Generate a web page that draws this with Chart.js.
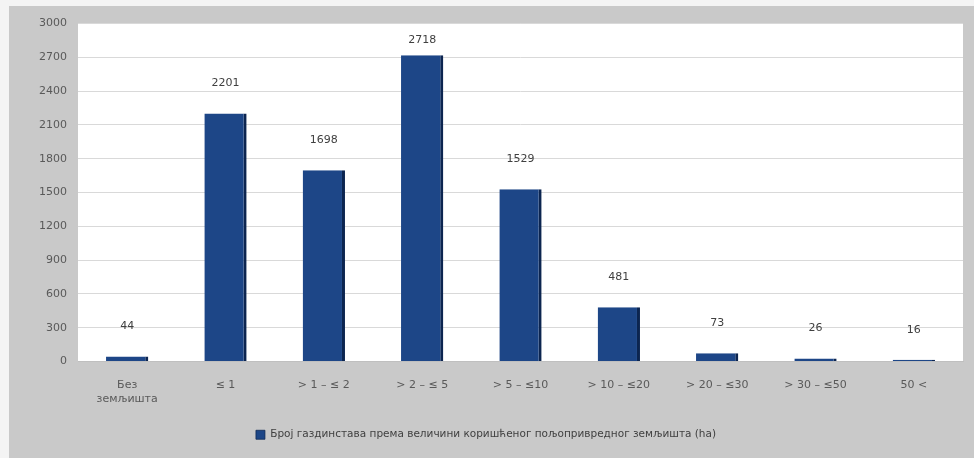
<!DOCTYPE html>
<html lang="sr">
<head>
    <meta charset="UTF-8">
    <title>Број газдинстава</title>
    <script src="https://cdn.jsdelivr.net/npm/chart.js"></script>
    <style>
        html, body { margin: 0; padding: 0; background: #f4f4f4; }
        #frame {
            position: absolute; left: 9px; top: 6px;
            width: 965px; height: 452px;
            background: #c9c9c9;
        }
    </style>
</head>
<body>
    <div id="frame"><canvas id="chart" width="965" height="452"></canvas></div>

    <script>
// Categories (land size, ha)
const categories = [
    ['Без', 'земљишта'], '≤ 1', '> 1 – ≤ 2', '> 2 – ≤ 5', '> 5 – ≤10',
    '> 10 – ≤20', '> 20 – ≤30', '> 30 – ≤50', '50 <'
];
// Number of holdings per category
const holdings = [44, 2201, 1698, 2718, 1529, 481, 73, 26, 16];
const seriesLabel = 'Број газдинстава према величини коришћеног пољопривредног земљишта (ha)';

// White plot background
const plotBackground = {
    id: 'plotBackground',
    beforeDraw(chart) {
        const { ctx, chartArea } = chart;
        ctx.save();
        ctx.fillStyle = '#ffffff';
        ctx.fillRect(chartArea.left, chartArea.top, chartArea.right - chartArea.left, chartArea.bottom - chartArea.top);
        ctx.restore();
    }
};

// Value labels above bars
const valueLabels = {
    id: 'valueLabels',
    afterDatasetsDraw(chart) {
        const { ctx, chartArea } = chart;
        const meta = chart.getDatasetMeta(0);
        ctx.save();
        ctx.font = '11px "DejaVu Sans", sans-serif';
        ctx.fillStyle = '#404040';
        ctx.textAlign = 'center';
        ctx.textBaseline = 'middle';
        meta.data.forEach((bar, i) => {
            let y = bar.y - 30;
            if (y < chartArea.top + 17) y = chartArea.top + 17;
            ctx.fillText(String(holdings[i]), bar.x, y);
        });
        ctx.restore();
    }
};

new Chart(document.getElementById('chart').getContext('2d'), {
    type: 'bar',
    data: {
        labels: categories,
        datasets: [{
            label: seriesLabel,
            data: holdings,
            backgroundColor: '#1d4687',
            borderColor: '#0c2550',
            borderWidth: { top: 0, left: 0, bottom: 0, right: 3 },
            borderSkipped: false,
            categoryPercentage: 1,
            barPercentage: 0.43
        }]
    },
    options: {
        responsive: false,
        animation: false,
        layout: { padding: { left: 0, right: 11, top: 17, bottom: 8 } },
        scales: {
            x: {
                grid: { display: false, drawTicks: false },
                border: { display: true, color: '#bfbfbf' },
                ticks: {
                    color: '#595959',
                    padding: 16,
                    font: { family: 'DejaVu Sans', size: 11, lineHeight: 1.3 },
                    maxRotation: 0,
                    autoSkip: false
                },
                afterFit(scale) { scale.height = 60; }
            },
            y: {
                min: 0,
                max: 3000,
                grid: { color: '#d9d9d9', drawTicks: false },
                border: { display: false },
                ticks: {
                    stepSize: 300,
                    color: '#595959',
                    padding: 11,
                    font: { family: 'DejaVu Sans', size: 11 },
                    callback: value => String(value)
                },
                afterFit(scale) { scale.width = 69; }
            }
        },
        plugins: {
            legend: {
                display: true,
                position: 'bottom',
                labels: {
                    color: '#404040',
                    boxWidth: 9,
                    boxHeight: 9,
                    padding: 8,
                    font: { family: 'DejaVu Sans', size: 10.5 }
                }
            },
            tooltip: { enabled: false }
        }
    },
    plugins: [plotBackground, valueLabels]
});
    </script>
</body>
</html>
